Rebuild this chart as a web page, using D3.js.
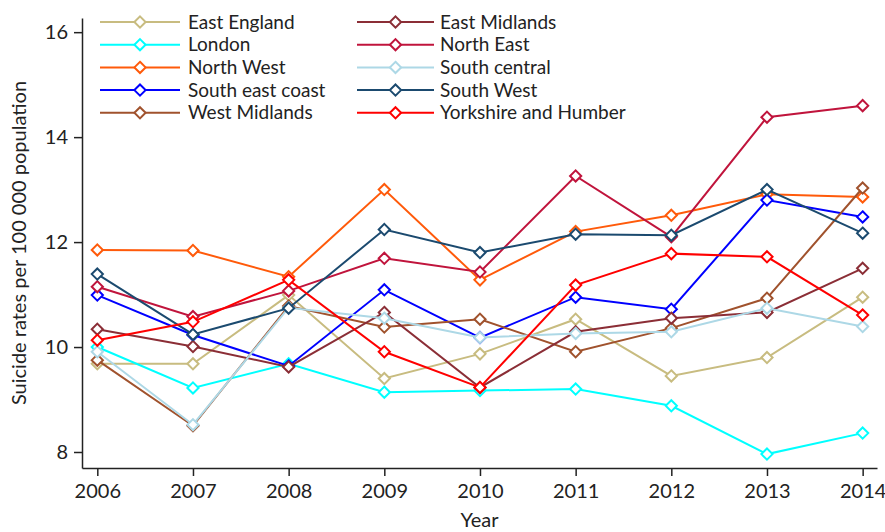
<!DOCTYPE html>
<html>
<head>
<meta charset="utf-8">
<script src="https://cdn.jsdelivr.net/npm/d3@7"></script>
<style>
  body { margin: 0; background: #fff; }
  text { font-family: Lato, "Open Sans", sans-serif; font-weight: 400; fill: #222; }
</style>
</head>
<body>
<div id="vis"></div>
<script>
/* Data */
const years = [2006, 2007, 2008, 2009, 2010, 2011, 2012, 2013, 2014];
const yTicks = [8, 10, 12, 14, 16];

const eastEngland    = [9.68, 9.68, 10.99, 9.40, 9.87, 10.53, 9.45, 9.80, 10.95];
const london         = [10.00, 9.22, 9.68, 9.14, 9.17, 9.20, 8.88, 7.96, 8.36];
const northWest      = [11.85, 11.84, 11.34, 13.00, 11.28, 12.20, 12.51, 12.91, 12.86];
const southEastCoast = [10.99, 10.23, 9.64, 11.09, 10.18, 10.95, 10.72, 12.80, 12.48];
const westMidlands   = [9.75, 8.50, 10.78, 10.38, 10.53, 9.91, 10.36, 10.93, 13.03];
const eastMidlands   = [10.34, 10.01, 9.62, 10.66, 9.23, 10.29, 10.55, 10.66, 11.50];
const northEast      = [11.15, 10.58, 11.07, 11.69, 11.43, 13.26, 12.10, 14.38, 14.60];
const southCentral   = [9.91, 8.52, 10.75, 10.55, 10.18, 10.26, 10.29, 10.74, 10.39];
const southWest      = [11.39, 10.24, 10.74, 12.24, 11.80, 12.15, 12.13, 13.00, 12.17];
const yorkshire      = [10.13, 10.48, 11.28, 9.91, 9.23, 11.18, 11.78, 11.72, 10.61];

const series = [
  {name: "East England",        values: eastEngland,    color: "#c8bc80"},
  {name: "London",              values: london,         color: "#00ffff"},
  {name: "North West",          values: northWest,      color: "#ff5a0a"},
  {name: "South east coast",    values: southEastCoast, color: "#0000ff"},
  {name: "West Midlands",       values: westMidlands,   color: "#a0522d"},
  {name: "East Midlands",       values: eastMidlands,   color: "#8b2e36"},
  {name: "North East",          values: northEast,      color: "#c0143c"},
  {name: "South central",       values: southCentral,   color: "#add8e6"},
  {name: "South West",          values: southWest,      color: "#1b4a6f"},
  {name: "Yorkshire and Humber",values: yorkshire,      color: "#ff0000"}
];

/* Layout */
const W = 885, H = 532;
const mLeft = 82, mRight = 877, mTop = 18, mBottom = 468;

const svg = d3.select("#vis").append("svg")
    .attr("width", W).attr("height", H);

const x = d3.scaleLinear().domain([2005.84, 2014.15]).range([mLeft, mRight]);
const y = d3.scaleLinear().domain([7.695, 16.27]).range([mBottom, mTop]);

/* Axes */
const xAxis = svg.append("g")
    .attr("transform", `translate(0,${mBottom})`)
    .call(d3.axisBottom(x).tickValues(years).tickFormat(d3.format("d"))
      .tickSize(8).tickPadding(8).tickSizeOuter(0));
const yAxis = svg.append("g")
    .attr("transform", `translate(${mLeft},0)`)
    .call(d3.axisLeft(y).tickValues(yTicks).tickSize(8).tickPadding(6).tickSizeOuter(0));

[xAxis, yAxis].forEach(a => {
  a.selectAll("path, line").attr("stroke", "#222").attr("stroke-width", 1.5);
  a.selectAll("text").style("font-size", "20px").attr("fill", "#222");
});

svg.append("text")
    .attr("x", (mLeft + mRight) / 2).attr("y", 527)
    .attr("text-anchor", "middle").style("font-size", "20px")
    .text("Year");

svg.append("text")
    .attr("transform", `translate(26,${(mTop + mBottom) / 2}) rotate(-90)`)
    .attr("text-anchor", "middle").style("font-size", "20px")
    .text("Suicide rates per 100 000 population");

/* Lines */
const diamond = d3.symbol().type(d3.symbolDiamond2).size(80);
const line = d3.line().x((d, i) => x(years[i])).y(d => y(d));

const g = svg.append("g");
series.forEach(s => {
  g.append("path")
    .attr("d", line(s.values))
    .attr("fill", "none").attr("stroke", s.color).attr("stroke-width", 2);
  g.selectAll(null).data(s.values).join("path")
    .attr("d", diamond)
    .attr("transform", (d, i) => `translate(${x(years[i])},${y(d)})`)
    .attr("fill", "#fff").attr("stroke", s.color).attr("stroke-width", 2);
});

/* Legend */
const legCols = [{x0: 100, x1: 180, text: 188}, {x0: 357, x1: 434, text: 440}];
const leg = svg.append("g");
series.forEach((s, i) => {
  const c = legCols[Math.floor(i / 5)];
  const ly = 22 + (i % 5) * 22.7;
  leg.append("line").attr("x1", c.x0).attr("x2", c.x1).attr("y1", ly).attr("y2", ly)
    .attr("stroke", s.color).attr("stroke-width", 2);
  leg.append("path").attr("d", diamond)
    .attr("transform", `translate(${(c.x0 + c.x1) / 2},${ly})`)
    .attr("fill", "#fff").attr("stroke", s.color).attr("stroke-width", 2);
  leg.append("text").attr("x", c.text).attr("y", ly).attr("dy", "0.35em")
    .style("font-size", "19px").text(s.name);
});
</script>
</body>
</html>
